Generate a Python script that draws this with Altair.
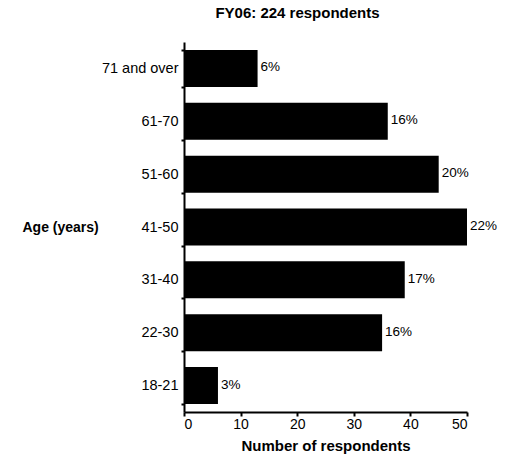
import altair as alt
import pandas as pd

ages = ["71 and over", "61-70", "51-60", "41-50", "31-40", "22-30", "18-21"]
counts = [13, 36, 45, 50, 39, 35, 6]
pct_labels = ["6%", "16%", "20%", "22%", "17%", "16%", "3%"]

df = pd.DataFrame({"age": ages, "count": counts, "pct": pct_labels})

FONT = "Liberation Sans"

y_enc = alt.Y(
    "age:N",
    sort=ages,
    scale=alt.Scale(paddingInner=0.3, paddingOuter=0.15),
    axis=alt.Axis(
        title="Age (years)",
        titleAngle=0,
        titleAlign="left",
        titleBaseline="middle",
        titleX=-162,
        titleY=185,
        titleFont=FONT,
        titleFontSize=14,
        titleFontWeight="bold",
        titleColor="black",
        labelFont=FONT,
        labelFontSize=14.5,
        labelColor="black",
        labelPadding=3,
        tickBand="extent",
        tickSize=3,
        tickWidth=2,
        tickColor="black",
        domainColor="black",
        domainWidth=2,
        grid=False,
    ),
)

x_enc = alt.X(
    "count:Q",
    scale=alt.Scale(domain=[0, 50], nice=False),
    axis=alt.Axis(
        title="Number of respondents",
        values=[0, 10, 20, 30, 40, 50],
        titleFont=FONT,
        titleFontSize=15,
        titleFontWeight="bold",
        titleColor="black",
        titlePadding=7,
        labelFont=FONT,
        labelFontSize=14,
        labelColor="black",
        labelPadding=1,
        tickSize=4,
        tickWidth=2,
        tickColor="black",
        domainColor="black",
        domainWidth=2,
        grid=False,
    ),
)

bars = alt.Chart(df).mark_bar(color="black").encode(x=x_enc, y=y_enc)

labels = alt.Chart(df).mark_text(
    align="left", baseline="middle", dx=3, dy=-1, font=FONT, fontSize=13.5, color="black"
).encode(x="count:Q", y=alt.Y("age:N", sort=ages), text="pct:N")

chart = (
    alt.layer(bars, labels)
    .properties(
        width=283,
        height=370,
        autosize=alt.AutoSizeParams(type="none"),
        padding={"left": 176, "top": 34, "right": 30, "bottom": 44},
        title=alt.TitleParams(
            text="Respondent Age",
            subtitle="FY06: 224 respondents",
            font=FONT,
            fontSize=30,
            fontWeight="bold",
            color="black",
            subtitleFont=FONT,
            subtitleFontSize=15,
            subtitleFontWeight="bold",
            subtitleColor="black",
            subtitlePadding=2,
            anchor="middle",
            dx=-28,
            offset=13,
        ),
    )
    .configure_view(stroke=None)
)

chart.save("out.html", embed_options={"renderer": "svg", "actions": False})
